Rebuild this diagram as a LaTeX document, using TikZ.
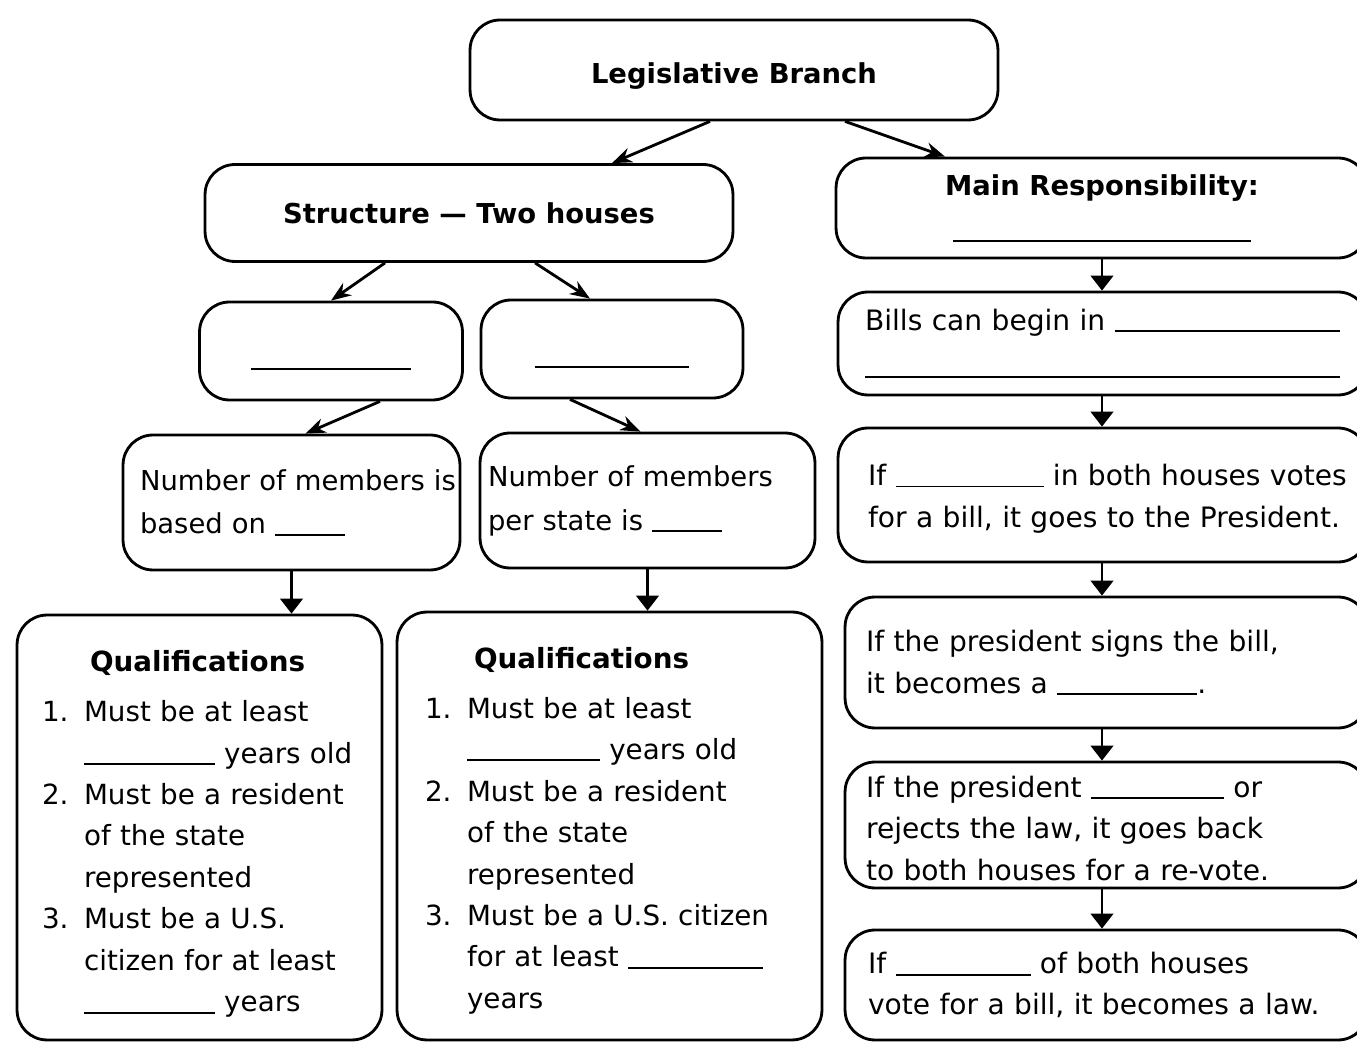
\documentclass[tikz,border=0pt]{standalone}
\usepackage{fontspec}
\setmainfont{DejaVu Sans}
\usepackage{tikz}
\usetikzlibrary{positioning, arrows.meta, calc}

\newcommand{\fillin}[1]{\rule[-1pt]{#1}{1.1pt}}
\newcommand{\qnum}[1]{\makebox[0.84cm][l]{#1}}
\newcommand{\qind}{\hspace*{0.84cm}}
\newcommand{\topstrut}[1]{\rule{0pt}{#1}}

\begin{document}
\begin{tikzpicture}[x=0.02cm, y=-0.02cm,
    box/.style={rectangle, rounded corners=0.6cm, draw=black, line width=1.6pt, inner sep=0pt},
    head/.style={font=\fontsize{15.6}{23.5}\selectfont\bfseries},
    body/.style={font=\fontsize{16}{24}\selectfont, align=left},
    qual/.style={font=\fontsize{15.8}{23.6}\selectfont, align=left},
    link/.style={-{Stealth[width=0.3cm, length=0.4cm]}, line width=1.6pt},
    vlink/.style={-{Triangle[width=0.45cm, length=0.3cm]}, line width=1.6pt}
]
\clip (0,0) rectangle (1357,1043);

% top
\node[box, head, text height=0.69cm, text depth=0.13cm, minimum width=10.56cm, minimum height=2cm] (leg) at (734,70) {Legislative Branch};

% left part
\node[box, head, minimum width=10.56cm, minimum height=1.94cm] (struct) at (469,213) {Structure --- Two houses};

\node[box, minimum width=5.26cm, minimum height=1.96cm] (blankL) at (331,351) {\smash{\raisebox{-0.34cm}{\fillin{3.2cm}}}};
\node[box, minimum width=5.24cm, minimum height=1.96cm] (blankR) at (612,349) {\smash{\raisebox{-0.34cm}{\fillin{3.1cm}}}};

\node[box, body, font=\fontsize{15.6}{25}\selectfont, inner xsep=0.34cm, text width=6.06cm, minimum height=2.7cm] (numL) at (291.5,502.5)
    {\mbox{Number of members is}\\ based on \fillin{1.4cm}};
\node[box, body, font=\fontsize{15.6}{25}\selectfont, inner xsep=0.16cm, text width=6.38cm, minimum height=2.7cm] (numR) at (647.5,500.5)
    {Number of members\\ per state is \fillin{1.4cm}};

\node[box, qual, inner xsep=0.5cm, text width=6.3cm, minimum height=8.5cm] (qualL) at (199.5,827.5)
    {\topstrut{0.68cm}\hspace*{0.96cm}{\bfseries Qualifications}\\[5pt]
     \qnum{1.}Must be at least\\
     \qind\mbox{\fillin{2.62cm} years old}\\
     \qnum{2.}\mbox{Must be a resident}\\
     \qind of the state\\
     \qind represented\\
     \qnum{3.}Must be a U.S.\\
     \qind\mbox{citizen for at least}\\
     \qind\fillin{2.62cm} years};
\node[box, qual, inner xsep=0.56cm, text width=7.38cm, minimum height=8.56cm] (qualR) at (609.5,826)
    {\topstrut{0.62cm}\hspace*{0.98cm}{\bfseries Qualifications}\\[4.5pt]
     \qnum{1.}Must be at least\\
     \qind\fillin{2.66cm} years old\\
     \qnum{2.}Must be a resident\\
     \qind of the state\\
     \qind represented\\
     \qnum{3.}\mbox{Must be a U.S. citizen}\\
     \qind for at least \fillin{2.7cm}\\
     \qind years};

% right column
\node[box, head, align=center, minimum width=10.64cm, minimum height=2cm] (main) at (1102,208)
    {Main Responsibility:\\[2pt] \fillin{5.96cm}};

\node[box, body, inner xsep=0.54cm, text width=9.52cm, minimum height=2.06cm] (bills) at (1103,343.5)
    {\mbox{Bills can begin in \fillin{4.5cm}}\\[2pt] \fillin{9.5cm}};
\node[box, body, inner xsep=0.6cm, text width=9.4cm, minimum height=2.68cm] (votes) at (1103,495)
    {\topstrut{0.59cm}\mbox{If \fillin{2.96cm} in both houses votes}\\ \mbox{for a bill, it goes to the President.}};
\node[box, body, inner xsep=0.42cm, text width=9.62cm, minimum height=2.62cm] (signs) at (1106.5,662.5)
    {If the president signs the bill,\\ it becomes a \fillin{2.8cm}.};
\node[box, body, font=\fontsize{16}{23.6}\selectfont, inner xsep=0.42cm, text width=9.62cm, minimum height=2.52cm] (veto) at (1106.5,825)
    {\topstrut{0.55cm}If the president \fillin{2.66cm} or\\ rejects the law, it goes back\\ to both houses for a re-vote.};
\node[box, body, font=\fontsize{16}{23}\selectfont, inner xsep=0.46cm, text width=9.54cm, minimum height=2.2cm] (law) at (1106.5,985)
    {If \fillin{2.7cm} of both houses\\ vote for a bill, it becomes a law.};

% arrows
\draw[link] ($(leg.south)+(-24,0)$) -- ($(struct.north)+(143,0)$);
\draw[link] ($(leg.south)+(111,0)$) -- ($(main.north)+(-157,0)$);
\draw[link] ($(struct.south)+(-84,0)$) -- (blankL.north);
\draw[link] ($(struct.south)+(66,0)$) -- ($(blankR.north)+(-22,0)$);
\draw[link] ($(blankL.south)+(49,0)$) -- ($(numL.north)+(14,0)$);
\draw[link] ($(blankR.south)+(-42,0)$) -- ($(numR.north)+(-7,0)$);
\draw[vlink] (numL.south) -- (numL.south |- qualL.north);
\draw[vlink] (numR.south) -- (numR.south |- qualR.north);

\draw[vlink] (main.south) -- (main.south |- bills.north);
\draw[vlink] (main.south |- bills.south) -- (main.south |- votes.north);
\draw[vlink] (main.south |- votes.south) -- (main.south |- signs.north);
\draw[vlink] (main.south |- signs.south) -- (main.south |- veto.north);
\draw[vlink] (main.south |- veto.south) -- (main.south |- law.north);

\end{tikzpicture}
\end{document}
